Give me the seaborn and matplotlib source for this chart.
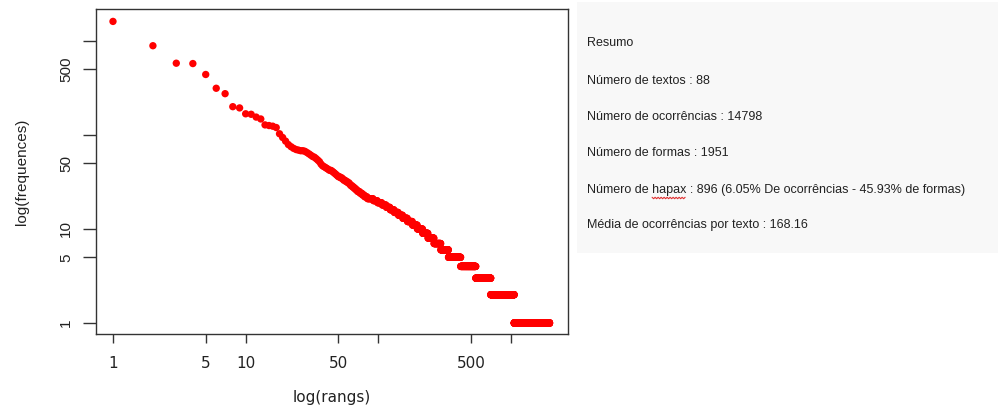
import numpy as np
import pandas as pd
import matplotlib
matplotlib.use("Agg")
import matplotlib.pyplot as plt
import seaborn as sns

# ---- data ----
# frequencies of the most frequent forms, ranks 1..85
top_freqs = [1614, 890, 580, 575, 440, 314, 275, 200, 194, 168,
             166, 155, 148, 128, 126, 124, 120, 103, 94, 86,
             79, 75, 72, 70, 69, 68, 68, 67, 65, 63,
             61, 59, 58, 56, 54, 52, 49, 47, 46, 45,
             44, 43, 42, 42, 41, 40, 39, 38, 37, 36,
             36, 35, 35, 34, 33, 33, 32, 32, 31, 31,
             30, 29, 29, 28, 28, 27, 27, 26, 26, 25,
             25, 25, 24, 24, 24, 23, 23, 23, 22, 22,
             22, 22, 21, 21, 21]
# frequency spectrum for the remaining forms: frequency -> number of forms
spectrum_freq = [21, 20, 19, 18, 17, 16, 15, 14, 13, 12, 11, 10, 9, 8, 7, 6, 5, 4, 3, 2, 1]
spectrum_count = [6, 7, 8, 8, 8, 9, 10, 11, 13, 15, 16, 19, 21, 26, 33, 42, 80, 125, 161, 352, 896]

x_ticks = [1, 5, 10, 50, 100, 500, 1000]
x_ticklabels = ["1", "5", "10", "50", "", "500", ""]
y_ticks = [1, 5, 10, 50, 100, 500, 1000]
y_ticklabels = ["1", "5", "10", "50", "", "500", ""]

summary_lines = [
    "Resumo",
    "Número de textos : 88",
    "Número de ocorrências : 14798",
    "Número de formas : 1951",
    "Número de hapax : 896 (6.05% De ocorrências - 45.93% de formas)",
    "Média de ocorrências por texto : 168.16",
]

# ---- build table ----
freqs = list(top_freqs)
for f, c in zip(spectrum_freq, spectrum_count):
    freqs.extend([f] * c)
df = pd.DataFrame({"rang": np.arange(1, len(freqs) + 1), "freq": freqs})

sns.set_theme(style="white")
plt.rcParams["font.family"] = ["Liberation Sans", "DejaVu Sans"]

W, H = 998, 405
fig = plt.figure(figsize=(W / 100, H / 100), dpi=100)
fig.patch.set_facecolor("white")

# plot axes in pixel coords
L, R, T, B = 96, 568, 9, 334
ax = fig.add_axes([L / W, (H - B) / H, (R - L) / W, (B - T) / H])
sns.scatterplot(data=df, x="rang", y="freq", ax=ax, color="#ff0000",
                s=28, linewidth=0, edgecolor="none", legend=False)
ax.set_xscale("log")
ax.set_yscale("log")
ax.set_xlim(10 ** -0.128, 10 ** 3.4296)
ax.set_ylim(10 ** -0.117, 10 ** 3.340)
ax.minorticks_off()
ax.set_xticks(x_ticks)
ax.set_xticklabels(x_ticklabels, fontsize=11, color="#222222", family=["DejaVu Sans"])
ax.set_yticks(y_ticks)
ax.set_yticklabels(y_ticklabels, fontsize=11, color="#222222", rotation=90, va="center")
ax.tick_params(axis="x", direction="out", length=6.5, width=1.0, color="#333333", pad=9, bottom=True)
ax.tick_params(axis="y", direction="out", length=9.5, width=1.0, color="#333333", pad=7, left=True)
for sp in ax.spines.values():
    sp.set_visible(True)
    sp.set_color("#333333")
    sp.set_linewidth(1.0)
ax.set_xlabel("log(rangs)", fontsize=11, color="#222222", family=["DejaVu Sans"], labelpad=14)
ax.set_ylabel("log(frequences)", fontsize=11, color="#222222", labelpad=22)
ax.set_facecolor("white")

# summary panel
PL, PT, PB = 577, 2, 253
pax = fig.add_axes([PL / W, (H - PB) / H, (W - PL) / W, (PB - PT) / H])
pax.set_facecolor("#f8f8f8")
for sp in pax.spines.values():
    sp.set_visible(False)
pax.set_xticks([])
pax.set_yticks([])
pax.set_xlim(0, W - PL)
pax.set_ylim(PB - PT, 0)
line_y = [43, 81, 117, 153, 190, 225]
panel_font = ["Liberation Sans", "DejaVu Sans"]
panel_size = 9.0
texts = []
for txt, yy in zip(summary_lines, line_y):
    texts.append(pax.text(10, yy - PT, txt, family=panel_font, fontsize=panel_size,
                          color="#222222", va="center", ha="left"))

# spell-check squiggle under "hapax"
fig.canvas.draw()
renderer = fig.canvas.get_renderer()
tmp1 = pax.text(10, 0, "Número de ", family=panel_font, fontsize=panel_size)
tmp2 = pax.text(10, 0, "Número de hapax", family=panel_font, fontsize=panel_size)
w1 = tmp1.get_window_extent(renderer).width
w2 = tmp2.get_window_extent(renderer).width
tmp1.remove()
tmp2.remove()
x0 = 10 + w1
x1 = 10 + w2
yb = line_y[4] - PT + 8
xs = np.arange(x0, x1 + 0.1, 1.5)
ys = yb + np.where(np.arange(len(xs)) % 2 == 0, -0.7, 0.7)
pax.plot(xs, ys, color="#e03030", lw=0.8)

fig.savefig("out.png", dpi=100)
